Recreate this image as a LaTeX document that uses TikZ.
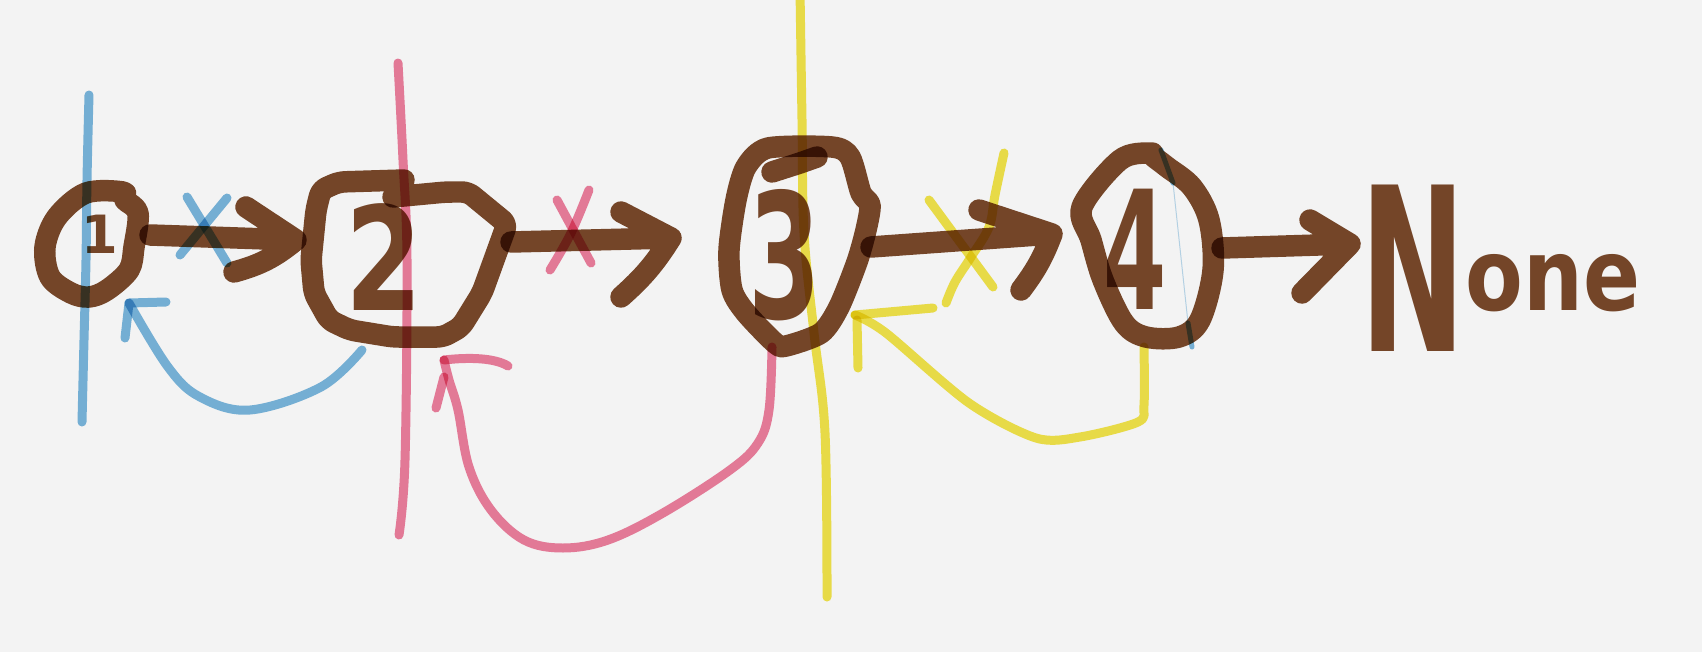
\documentclass[tikz,border=0pt]{standalone}
\usepackage{fontspec}
\usepackage{graphicx}
\newfontfamily\handfont{DejaVu Sans}
\definecolor{paper}{HTML}{F3F3F3}
\definecolor{inkbrown}{HTML}{7A492B}
\definecolor{penblue}{HTML}{7AB7DE}
\definecolor{penpink}{HTML}{EE809E}
\definecolor{penyellow}{HTML}{F3E54B}
\begin{document}
\begin{tikzpicture}[x=0.02cm,y=-0.02cm,
  ink/.style={draw=inkbrown,line width=0.43cm,line cap=round,line join=round},
  pen/.style={line width=0.18cm,line cap=round,line join=round},
  bluepen/.style={pen,draw=penblue},
  pinkpen/.style={pen,draw=penpink},
  yellowpen/.style={pen,draw=penyellow},
  digit/.style={text=inkbrown,inner sep=0pt,font=\handfont\bfseries}]
\fill[paper] (0,0) rectangle (1702,652);
\useasboundingbox (0,0) rectangle (1702,652);
\begin{scope}[blend mode=multiply]
% ---- node outlines ----
\draw[ink] plot[smooth cycle,tension=0.55] coordinates {(123,192) (86,193) (57,217) (45,247) (50,277) (71,293) (89,297) (107,290) (129,270) (134,247) (138,213) (125,200)};
\draw[ink,rounded corners=0.12cm] (404,180) -- (339,182) -- (321,190) -- (316,210) -- (311,260) -- (314,293) -- (329,320) -- (350,330) -- (393,337) -- (443,337) -- (461,327) -- (482,293) -- (507,224) -- (468,192) -- (446,192) -- (393,197);
\draw[ink] plot[smooth cycle,tension=0.45] coordinates {(768,148) (832,147) (850,157) (861,193) (870,205) (866,230) (857,262) (839,307) (821,333) (786,346) (775,343) (746,313) (732,290) (729,250) (736,200) (746,167)};
\draw[ink] (772,172) -- (800,163) -- (817,157);
\draw[ink] plot[smooth cycle,tension=0.55] coordinates {(1150,153) (1120,160) (1082,207) (1091,240) (1103,280) (1124,323) (1146,337) (1179,337) (1200,320) (1213,270) (1209,220) (1192,187) (1167,167) (1154,157)};
% ---- values ----
\node[digit] (n1) at (100,234) {\fontsize{30}{30}\selectfont 1};
\node[digit] (n2) at (384,257) {\fontsize{82}{82}\selectfont\scalebox{0.77}[1]{2}};
\node[digit] (n3) at (785,255) {\fontsize{99}{99}\selectfont\scalebox{0.6}[1]{3}};
\node[digit] (n4) at (1135,249) {\fontsize{94}{94}\selectfont\scalebox{0.55}[1]{4}};
\node[digit,anchor=base west] (none) at (1360,351) {\fontsize{130}{130}\selectfont\scalebox{0.55}[1]{N}\raisebox{22.8pt}{\fontsize{57}{57}\selectfont\scalebox{0.84}[1]{one}}};
% ---- next arrows ----
\coordinate (a12s) at (150,235); \coordinate (a12e) at (296,240);
\coordinate (a23s) at (511,242); \coordinate (a23e) at (671,238);
\coordinate (a34s) at (871,247); \coordinate (a34e) at (1052,234);
\coordinate (a4ns) at (1222,248); \coordinate (a4ne) at (1350,244);
\draw[ink] (a12s) -- (a12e) ++(-50,-33) -- (a12e) to[bend left=12] ++(-62,32);
\draw[ink] (a23s) -- (a23e) ++(-50,-26) -- (a23e) to[bend left=8] ++(-50,59);
\draw[ink] (a34s) -- (a34e) ++(-73,-24) -- (a34e) to[bend left=8] ++(-31,56);
\draw[ink] (a4ns) -- (a4ne) ++(-40,-24) -- (a4ne) -- ++(-48,49);
% ---- blue pointer ----
\draw[bluepen] plot[smooth,tension=0.6] coordinates {(89,95) (87,180) (86,260) (84,340) (82,422)};
\draw[bluepen] (187,197) -- (227,263);
\draw[bluepen] (227,198) -- (180,255);
\coordinate (bstart) at (362,350); \coordinate (btip) at (129,303);
\draw[bluepen] plot[smooth,tension=0.6] coordinates {(bstart) (321,387) (250,410) (200,397) (168,367) (btip)};
\draw[bluepen] (166,302) -- (btip) -- (125,338);
% ---- pink pointer ----
\draw[pinkpen] plot[smooth,tension=0.6] coordinates {(398,63) (403,160) (407,260) (405,460) (399,535)};
\draw[pinkpen] (557,200) -- (591,263);
\draw[pinkpen] plot[smooth,tension=0.6] coordinates {(589,190) (571,233) (550,270)};
\coordinate (pstart) at (772,347); \coordinate (ptip) at (444,360);
\draw[pinkpen] plot[smooth,tension=0.6] coordinates {(pstart) (769,410) (758,443) (730,470) (663,513) (608,540) (563,548) (524,540) (491,510) (469,467) (458,410) (449,380) (ptip)};
\draw[pinkpen] (ptip) .. controls (470,357) and (495,358) .. (508,366);
\draw[pinkpen] (444,377) -- (436,408);
% ---- yellow pointer ----
\draw[yellowpen] plot[smooth,tension=0.6] coordinates {(800,-10) (802,120) (804,233) (814,333) (825,433) (827,597)};
\draw[yellowpen] (929,200) -- (993,287);
\draw[yellowpen] plot[smooth,tension=0.6] coordinates {(1004,153) (995,195) (989,227) (971,257) (955,282) (946,303)};
\coordinate (ystart) at (1144,347); \coordinate (ytip) at (855,315);
\draw[yellowpen] plot[smooth,tension=0.5] coordinates {(ystart) (1144,405) (1138,422) (1080,437) (1036,438) (969,403) (886,333) (ytip)};
\draw[yellowpen] (ytip) -- (933,308);
\draw[yellowpen] (857,320) -- (858,368);
% ---- faint blue marks on node 4 ----
\draw[penblue,line width=0.1cm,line cap=round] (1161,150) -- (1173,183);
\draw[penblue,line width=0.02cm,opacity=0.5] (1173,183) -- (1188,323);
\draw[penblue,line width=0.1cm,line cap=round] (1188,323) -- (1192,347);
\end{scope}
\end{tikzpicture}
\end{document}
